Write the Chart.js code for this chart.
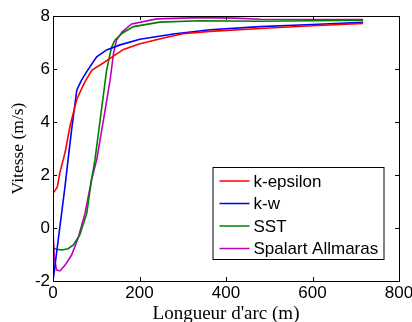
<!DOCTYPE html>
<html>
<head>
<meta charset="utf-8">
<script src="https://cdn.jsdelivr.net/npm/chart.js@4.4.1/dist/chart.umd.min.js"></script>
<style>
  body { margin: 0; background: #fff; }
  canvas { display: block; }
</style>
</head>
<body>
<canvas id="vitesse" width="412" height="322"></canvas>
<script>
// values: arc length (m) and speed (m/s)
var seriesNames = ['k-epsilon', 'k-w', 'SST', 'Spalart Allmaras'];
var seriesColors = ['#ff0000', '#0000ff', '#008000', '#bf00bf'];

var epsX = [0, 5, 10, 16, 24, 29, 39, 51, 55, 66, 75, 90, 109, 132, 163, 201, 263, 301, 363, 479, 600, 717];
var epsY = [1.31, 1.42, 1.55, 2.1, 2.6, 2.94, 3.82, 4.6, 4.85, 5.25, 5.55, 5.96, 6.15, 6.4, 6.74, 6.95, 7.2, 7.33, 7.42, 7.53, 7.63, 7.72];

var kwX = [0, 28, 35, 43, 55, 65, 78, 101, 124, 155, 201, 278, 363, 479, 600, 717];
var kwY = [-2, 1.6, 2.6, 3.7, 5.2, 5.55, 5.9, 6.46, 6.72, 6.91, 7.12, 7.32, 7.48, 7.6, 7.68, 7.76];

var sstX = [0, 8, 20, 35, 47, 62, 78, 89, 97, 110, 124, 135, 143, 160, 186, 247, 340, 479, 600, 717];
var sstY = [-0.75, -0.8, -0.83, -0.78, -0.64, -0.26, 0.55, 1.81, 2.57, 4.2, 5.96, 6.8, 7.09, 7.35, 7.6, 7.77, 7.82, 7.8, 7.82, 7.84];

var saX = [0, 3, 8, 16, 28, 43, 58, 74, 89, 101, 118, 132, 140, 147, 160, 182, 240, 340, 420, 479, 600, 717];
var saY = [-0.1, -1.08, -1.58, -1.62, -1.4, -1.02, -0.39, 0.55, 1.81, 2.57, 4.2, 5.58, 6.6, 7.09, 7.4, 7.7, 7.89, 7.94, 7.92, 7.88, 7.87, 7.87];

var xTicks = [0, 200, 400, 600, 800];
var yTicks = [-2, 0, 2, 4, 6, 8];

function points(xs, ys) {
  var pts = [];
  for (let i = 0; i < xs.length; i++) {
    pts.push({x: xs[i], y: ys[i]});
  }
  return pts;
}

var allX = [epsX, kwX, sstX, saX];
var allY = [epsY, kwY, sstY, saY];
var datasets = [];
for (let i = 0; i < seriesNames.length; i++) {
  datasets.push({
    label: seriesNames[i],
    data: points(allX[i], allY[i]),
    borderColor: seriesColors[i],
    borderWidth: 1.6,
    pointRadius: 0,
    tension: 0,
    fill: false
  });
}

// matlab style box: frame + inward ticks on all four sides, legend inside
var boxPlugin = {
  id: 'box',
  afterDraw: function(chart) {
    var ctx = chart.ctx;
    var a = chart.chartArea;
    var xs = chart.scales.x, ys = chart.scales.y;
    var tl = 4;
    ctx.save();
    ctx.strokeStyle = '#000';
    ctx.lineWidth = 1;
    ctx.strokeRect(a.left + 0.5, a.top + 0.5, a.right - a.left, a.bottom - a.top);
    ctx.beginPath();
    xTicks.forEach(function(v) {
      var px = Math.round(xs.getPixelForValue(v)) + 0.5;
      ctx.moveTo(px, a.bottom); ctx.lineTo(px, a.bottom - tl);
      ctx.moveTo(px, a.top); ctx.lineTo(px, a.top + tl);
    });
    yTicks.forEach(function(v) {
      var py = Math.round(ys.getPixelForValue(v)) + 0.5;
      ctx.moveTo(a.left, py); ctx.lineTo(a.left + tl, py);
      ctx.moveTo(a.right, py); ctx.lineTo(a.right - tl, py);
    });
    ctx.stroke();

    // legend
    var bx = a.right - 186, by = a.bottom - 113.5, bw = 171, bh = 92;
    ctx.fillStyle = '#fff';
    ctx.fillRect(bx, by, bw, bh);
    ctx.strokeRect(bx, by, bw, bh);
    ctx.font = '17px "Liberation Sans", Arial, sans-serif';
    ctx.textBaseline = 'middle';
    ctx.textAlign = 'left';
    chart.data.datasets.forEach(function(ds, i) {
      var ry = by + 13.5 + i * 22.5;
      ctx.strokeStyle = ds.borderColor;
      ctx.lineWidth = 1.5;
      ctx.beginPath();
      ctx.moveTo(bx + 6.5, ry); ctx.lineTo(bx + 36.5, ry);
      ctx.stroke();
      ctx.fillStyle = '#000';
      ctx.fillText(ds.label, bx + 40.5, ry + 1);
    });
    ctx.restore();
  }
};

var ctx = document.getElementById('vitesse').getContext('2d');
var vitesseChart = new Chart(ctx, {
  type: 'line',
  data: { datasets: datasets },
  options: {
    responsive: false,
    animation: false,
    layout: { padding: { top: 16, right: 13, left: 0, bottom: 0 } },
    plugins: { legend: { display: false }, tooltip: { enabled: false } },
    scales: {
      x: {
        type: 'linear',
        min: 0, max: 800,
        afterFit: function(s) { s.height = 41; s.paddingLeft = 0; s.paddingRight = 0; },
        afterBuildTicks: function(s) { s.ticks = xTicks.map(function(v) { return {value: v}; }); },
        grid: { display: false, drawTicks: false },
        border: { display: false },
        ticks: { color: '#000', padding: 2, maxRotation: 0,
          font: { family: '"Liberation Sans", Arial, sans-serif', size: 17 } },
        title: { display: true, text: "Longueur d'arc (m)", color: '#000', padding: 0,
          font: { family: '"Liberation Serif", "Times New Roman", serif', size: 19, lineHeight: 0.8 } }
      },
      y: {
        min: -2, max: 8,
        afterFit: function(s) { s.width = 53; s.paddingTop = 0; s.paddingBottom = 0; },
        afterBuildTicks: function(s) { s.ticks = yTicks.map(function(v) { return {value: v}; }); },
        grid: { display: false, drawTicks: false },
        border: { display: false },
        ticks: { color: '#000', padding: 3,
          font: { family: '"Liberation Sans", Arial, sans-serif', size: 17 } },
        title: { display: true, text: 'Vitesse (m/s)', color: '#000', padding: { top: 7.5, bottom: 0 },
          font: { family: '"Liberation Serif", "Times New Roman", serif', size: 17.5 } }
      }
    }
  },
  plugins: [boxPlugin]
});
</script>
</body>
</html>
